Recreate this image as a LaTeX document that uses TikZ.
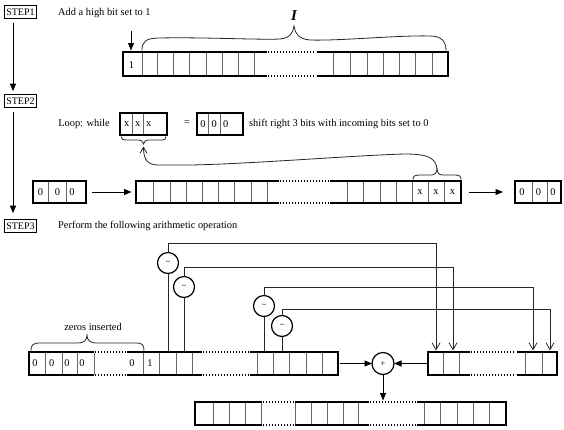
\documentclass[tikz,border=0pt]{standalone}
\usepackage{fontspec}
\setmainfont{Liberation Serif}
\usetikzlibrary{arrows.meta,calc}
\begin{document}
\begin{tikzpicture}[x=1pt,y=-1pt,
  thk/.style={line width=2.9pt, line cap=butt, line join=miter},
  cell/.style={line width=0.9pt, black!60},
  dots/.style={line width=1.5pt, dash pattern=on 1.4pt off 1.6pt},
  wire/.style={line width=0.8pt, black!85},
  steplbl/.style={draw, line width=0.6pt, inner xsep=2pt, inner ysep=0pt, minimum height=13pt, font=\fontsize{10}{12}\selectfont},
  txt/.style={font=\fontsize{10.4}{12}\selectfont, inner sep=0pt},
  bit/.style={font=\fontsize{10.4}{12}\selectfont, inner sep=0pt},
  bitbox/.style={draw, thk, outer sep=0pt, inner sep=0pt},
  opnode/.style={circle, draw, line width=1.2pt, minimum size=21pt, inner sep=0pt, outer sep=0pt},
  fillarrow/.style={-{Triangle[length=7.5pt,width=6pt]}, line width=0.9pt},
  openarrow/.style={-{Straight Barb[length=7pt,width=8pt]}, line width=0.8pt, black!85}
]
\useasboundingbox (0,0) rectangle (564,429);
\fill[white] (0,0) rectangle (564,429);

% ---------- STEP labels ----------
\node[steplbl] (s1) at (20.5,12) {STEP1};
\node[steplbl] (s2) at (20.5,101) {STEP2};
\node[steplbl] (s3) at (20.5,226) {STEP3};
\draw[fillarrow] ([xshift=-7.5pt,yshift=-4pt]s1.south) -- ([xshift=-7.5pt,yshift=3pt]s2.north);
\draw[fillarrow] ([xshift=-7.5pt,yshift=-4pt]s2.south) -- ([xshift=-7.5pt,yshift=6pt]s3.north);

% ---------- STEP 1 ----------
\node[txt, anchor=west] (t1) at (58,13) {Add a high bit set to 1};
\foreach \x in {142,157,173,189,206,222,238,254,333,350,367,383,399,415,432}
  \draw[cell] (\x,53) -- (\x,75);
\draw[thk] (267,52) -- (123,52) -- (123,76) -- (267,76);
\draw[thk] (317,52) -- (448,52) -- (448,76) -- (317,76);
\draw[dots] (268,52) -- (316,52) (268,76) -- (316,76);
\node[bit] (b1) at (131.5,65) {1};
\coordinate (a1s) at (131,31);
\coordinate (a1e) at (131,50.5);
\draw[fillarrow] (a1s) -- (a1e);
\draw[wire] (142,50.5) .. controls (142,42) and (145,38) .. (160,38)
  .. controls (200,37) and (260,40) .. (280,39)
  .. controls (290,38) and (293,33) .. (294,26)
  .. controls (295,33) and (298,39) .. (310,40)
  .. controls (340,41) and (400,35) .. (430,36)
  .. controls (442,36) and (446,42) .. (446,50.5);
\node[font=\fontsize{15}{15}\selectfont\bfseries\itshape, inner sep=0pt] (bigI) at (294,16) {I};

% ---------- STEP 2 ----------
\node[txt] (loop) at (84,124) {Loop: while};
\draw[cell] (132,114) -- (132,134) (143,114) -- (143,134);
\node[bitbox, minimum width=47pt, minimum height=22pt] (xb) at (143.5,124) {};
\node[bit] at (126.8,124) {x};
\node[bit] at (137.8,124) {x};
\node[bit] at (148.6,124) {x};
\node[txt] (eq) at (187,123.5) {=};
\draw[cell] (208,114) -- (208,134) (220,114) -- (220,134);
\node[bitbox, minimum width=46pt, minimum height=22pt] (zb) at (220,124) {};
\node[bit] at (203,124) {0};
\node[bit] at (214.2,124) {0};
\node[bit] at (225.6,124) {0};
\node[txt, anchor=west] (shift) at (249,124) {shift right 3 bits with incoming bits set to 0};

% brace under xxx
\draw[wire] (121,136.5) .. controls (121,139.5) and (123,140) .. (128,140) -- (138,140)
  .. controls (141.5,140) and (143,141.5) .. (143.5,144)
  .. controls (144,141.5) and (145.5,140) .. (149,140) -- (160,140)
  .. controls (165,140) and (166,139.5) .. (166,136.5);

% register row
\draw[cell] (48,182) -- (48,202) (66,182) -- (66,202);
\node[bitbox, minimum width=53pt, minimum height=22pt] (lb) at (59.5,192) {};
\node[bit] at (40.5,192) {0};
\node[bit] at (57.5,192) {0};
\node[bit] at (72,192) {0};

\foreach \x in {153,170,186,202,218,234,251,267,347,363,380,396,412,428,444}
  \draw[cell] (\x,182) -- (\x,202);
\draw[thk] (279,181) -- (136,181) -- (136,203) -- (279,203);
\draw[thk] (330,181) -- (461,181) -- (461,203) -- (330,203);
\draw[dots] (280,181) -- (329,181) (280,203) -- (329,203);
\node[bit] at (420,192) {x};
\node[bit] at (436,192) {x};
\node[bit] at (452.5,192) {x};
\coordinate (r2w) at (134.5,192);
\coordinate (r2e) at (462.5,192);

\draw[cell] (532,182) -- (532,202) (547,182) -- (547,202);
\node[bitbox, minimum width=46pt, minimum height=22pt] (rb) at (538,192) {};
\node[bit] at (522,192) {0};
\node[bit] at (538.5,192) {0};
\node[bit] at (553,192) {0};

\draw[fillarrow] ([xshift=6pt]lb.east) -- ([xshift=-3pt]r2w);
\draw[fillarrow] ([xshift=6pt]r2e) -- ([xshift=-12pt]rb.west);

% brace over xxx in register
\draw[wire] (413,179.5) .. controls (413,176) and (415,175) .. (420,175) -- (431,175)
  .. controls (435,175) and (436.5,173) .. (437,169)
  .. controls (437.5,173) and (439,175) .. (443,175) -- (455,175)
  .. controls (459,175) and (461,176) .. (461,179.5);
\coordinate (btip) at (437,169);
\coordinate (atip) at (143.5,146.5);
\draw[wire, -{Straight Barb[length=6pt,width=7pt]}] (btip) .. controls (436,158) and (428,154) .. (405,154)
  .. controls (360,155) and (250,164) .. (190,165) -- (158,165)
  .. controls (148,165) and (143.5,160) .. (atip);

% ---------- STEP 3 ----------
\node[txt, anchor=west] (t3) at (58,226) {Perform the following arithmetic operation};

% upper left register
\foreach \x in {45,62,77,94,143,159,176,192,257,273,289,306,322}
  \draw[cell] (\x,353) -- (\x,374);
\draw[thk] (94,352) -- (29,352) -- (29,375) -- (94,375);
\draw[dots] (95,352) -- (126,352) (95,375) -- (126,375);
\draw[thk] (127,352) -- (202,352) (127,375) -- (202,375);
\draw[dots] (203,352) -- (249,352) (203,375) -- (249,375);
\draw[thk] (250,352) -- (338,352) -- (338,375) -- (250,375);
\node[bit] at (35,363.5) {0};
\node[bit] at (51.7,363.5) {0};
\node[bit] at (67,363.5) {0};
\node[bit] at (82,363.5) {0};
\node[bit] at (132,363.5) {0};
\node[bit] at (150,363.5) {1};
\coordinate (Ltop) at (0,350.5);
\coordinate (Lright) at (339.5,363.5);

% zeros inserted brace
\draw[wire] (31,350.5) .. controls (31,345) and (33,343) .. (40,343) -- (78,343)
  .. controls (84,343) and (87,340) .. (87,335)
  .. controls (87,340) and (90,343) .. (96,343) -- (137,343)
  .. controls (142,343) and (144,345) .. (144,350.5);
\node[txt] (zi) at (93,327) {zeros inserted};

% right register
\foreach \x in {443,459,525,542}
  \draw[cell] (\x,353) -- (\x,374);
\draw[thk] (470,352) -- (428,352) -- (428,375) -- (470,375);
\draw[dots] (471,352) -- (516,352) (471,375) -- (516,375);
\draw[thk] (517,352) -- (557,352) -- (557,375) -- (517,375);
\coordinate (Rleft) at (426.5,363.5);

% bottom register
\foreach \x in {213,229,245,261,295,311,327,343,358,424,440,457,473,489}
  \draw[cell] (\x,403) -- (\x,424);
\draw[thk] (262,402) -- (195,402) -- (195,425) -- (262,425);
\draw[dots] (263,402) -- (294,402) (263,425) -- (294,425);
\draw[thk] (295,402) -- (369,402) (295,425) -- (369,425);
\draw[dots] (370,402) -- (416,402) (370,425) -- (416,425);
\draw[thk] (417,402) -- (506,402) -- (506,425) -- (417,425);
\coordinate (Btop) at (383,400.5);

% complement circles
\node[opnode] (c1) at (168,263) {\fontsize{8}{8}\selectfont\textasciitilde};
\node[opnode] (c2) at (184,287) {\fontsize{8}{8}\selectfont\textasciitilde};
\node[opnode] (c3) at (264,306) {\fontsize{8}{8}\selectfont\textasciitilde};
\node[opnode] (c4) at (282,326) {\fontsize{8}{8}\selectfont\textasciitilde};

\coordinate (k1) at (436,243);
\coordinate (k2) at (453,267);
\coordinate (k3) at (533,287);
\coordinate (k4) at (550,309);
\coordinate (g1) at (436,350.5);
\coordinate (g2) at (453,350.5);
\coordinate (g3) at (533,350.5);
\coordinate (g4) at (550,350.5);

\draw[wire] (c1.south) -- (c1.south |- Ltop);
\draw[wire] (c2.south) -- (c2.south |- Ltop);
\draw[wire] (c3.south) -- (c3.south |- Ltop);
\draw[wire] (c4.south) -- (c4.south |- Ltop);

\draw[wire] (c1.north) |- (k1);
\draw[wire] (c2.north) |- (k2);
\draw[wire] (c3.north) |- (k3);
\draw[wire] (c4.north) |- (k4);
\draw[openarrow] (k1) -- (g1);
\draw[openarrow] (k2) -- (g2);
\draw[openarrow] (k3) -- (g3);
\draw[openarrow] (k4) -- (g4);

% adder
\node[opnode, minimum size=22pt] (plus) at (383,363.5) {\fontsize{9}{9}\selectfont +};
\draw[fillarrow] (Lright) -- (plus.west);
\draw[fillarrow] (Rleft) -- (plus.east);
\draw[fillarrow] (plus.south) -- (Btop);

\end{tikzpicture}
\end{document}
